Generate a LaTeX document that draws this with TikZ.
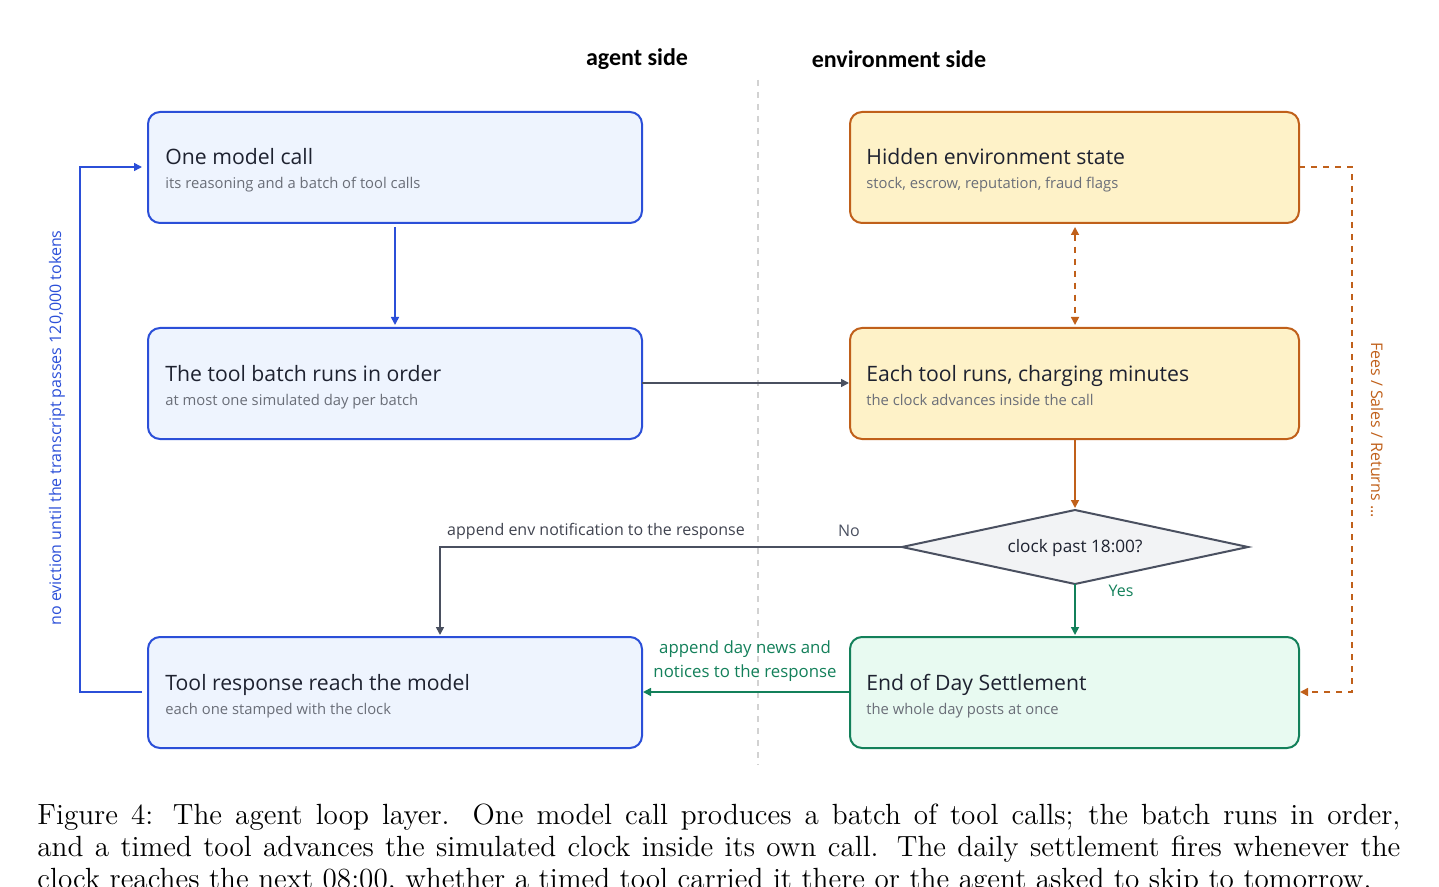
\documentclass[tikz,border=0pt]{standalone}
\usepackage{fontspec}
\newfontfamily\osans{Open Sans}
\newfontfamily\carl{Carlito}
\usetikzlibrary{shapes.geometric,arrows.meta}
\definecolor{bB}{HTML}{2B4FD8}\definecolor{bF}{HTML}{EEF4FE}
\definecolor{oB}{HTML}{C0601A}\definecolor{oF}{HTML}{FEF2C8}
\definecolor{gB}{HTML}{13805A}\definecolor{gF}{HTML}{E8FAF1}
\definecolor{dB}{HTML}{4A5060}\definecolor{dF}{HTML}{F2F3F5}
\definecolor{tx}{HTML}{1E2230}\definecolor{sub}{HTML}{6A6E78}
\begin{document}
\begin{tikzpicture}[x=0.5pt,y=-0.5pt,
  box/.style={draw,line width=1pt,rounded corners=6pt},
  ttl/.style={anchor=base west,inner sep=0,font=\osans\fontsize{10.6}{12}\selectfont,text=tx},
  stl/.style={anchor=base west,inner sep=0,font=\osans\fontsize{7.4}{9}\selectfont,text=sub},
  lbl/.style={inner sep=0,font=\osans\fontsize{8}{9.5}\selectfont},
  arr/.style={line width=0.8pt,-{Triangle[length=4pt,width=4pt]}}]
\useasboundingbox (0,0) rectangle (1439,887);
\node[font=\carl\bfseries\fontsize{12}{14}\selectfont] (ha) at (637,59) {agent side};
\node[font=\carl\bfseries\fontsize{12}{14}\selectfont] (he) at (899,59) {environment side};
\draw[dashed,gray!35,line width=1pt] (758,80) -- (758,765);
% left boxes
\draw[box,draw=bB,fill=bF] (148,112) rectangle (642,223);
\node[ttl] (a1) at (165,165) {One model call};
\node[stl] (a2) at (165,189) {its reasoning and a batch of tool calls};
\draw[box,draw=bB,fill=bF] (148,328) rectangle (642,439);
\node[ttl] (b1) at (165,381) {The tool batch runs in order};
\node[stl] (b2) at (165,405) {at most one simulated day per batch};
\draw[box,draw=bB,fill=bF] (148,637) rectangle (642,748);
\node[ttl] (c1) at (165,690) {Tool response reach the model};
\node[stl] (c2) at (165,714) {each one stamped with the clock};
% right boxes
\draw[box,draw=oB,fill=oF] (850,112) rectangle (1299,223);
\node[ttl] (d1) at (866,165) {Hidden environment state};
\node[stl] (d2) at (866,189) {stock, escrow, reputation, fraud flags};
\draw[box,draw=oB,fill=oF] (850,328) rectangle (1299,439);
\node[ttl] (e1) at (866,381) {Each tool runs, charging minutes};
\node[stl] (e2) at (866,405) {the clock advances inside the call};
\draw[box,draw=gB,fill=gF] (850,637) rectangle (1299,748);
\node[ttl] (f1) at (866,690) {End of Day Settlement};
\node[stl] (f2) at (866,714) {the whole day posts at once};
% diamond
\draw[draw=dB,fill=dF,line width=1pt] (902,547) -- (1075,510) -- (1248,547) -- (1075,584) -- cycle;
\node[lbl,font=\osans\fontsize{8.6}{10}\selectfont,text=tx] (dq) at (1075,548) {clock past 18:00?};
\coordinate (DL) at (902,547); \coordinate (DB) at (1075,584);
% arrows
\draw[arr,draw=bB] (395,227) -- (395,325);
\draw[arr,draw=dB] (642,383) -- (849,383);
\draw[line width=0.8pt,dashed,oB,{Triangle[length=4pt,width=4pt]}-{Triangle[length=4pt,width=4pt]}] (1075,227) -- (1075,325);
\draw[arr,draw=oB] (1075,439) -- (1075,508);
\draw[arr,draw=gB] (DB) -- (1075,635);
\node[lbl,text=gB] (yes) at (1121,591) {Yes};
\draw[arr,draw=dB] (DL) -- (440,547) -- (440,635);
\node[lbl,text=dB] (no) at (849,531) {No};
\node[lbl,text=tx!85] (an) at (596,531) {append env notification to the response};
\draw[arr,draw=gB] (850,692) -- (643,692);
\node[lbl,text=gB,align=center,font=\osans\fontsize{8.4}{12}\selectfont] (ad) at (745,661) {append day news and\\notices to the response};
\draw[arr,dashed,draw=oB] (1299,167) -- (1352,167) -- (1352,692) -- (1300,692);
\node[lbl,text=oB,rotate=-90] (fs) at (1377,430) {Fees / Sales / Returns ...};
\draw[arr,draw=bB] (142,692) -- (80,692) -- (80,167) -- (142,167);
\node[lbl,text=bB,rotate=90] (ne) at (57,428) {no eviction until the transcript passes 120,000 tokens};
% caption
\node[anchor=north west,inner sep=0,text width=681.5pt,align=justify,font=\fontsize{14.6}{16}\selectfont] (cap) at (37,804)
{Figure 4: The agent loop layer. One model call produces a batch of tool calls; the batch runs in order,\linebreak and a timed tool advances the simulated clock inside its own call. The daily settlement fires whenever the\linebreak clock reaches the next 08:00, whether a timed tool carried it there or the agent asked to skip to tomorrow.};
\end{tikzpicture}
\end{document}
